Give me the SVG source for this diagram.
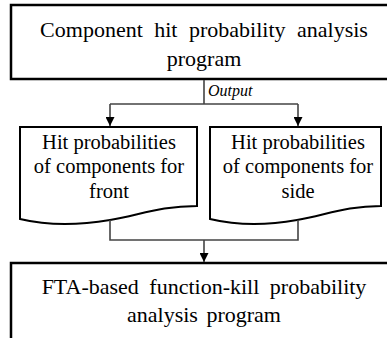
<svg xmlns="http://www.w3.org/2000/svg" width="387" height="338" viewBox="0 0 387 338">
<defs>
<style>
.box{fill:#fff;stroke:#000;stroke-width:2.5}
.doc{fill:#fff;stroke:#000;stroke-width:2}
.t{font-family:"Liberation Serif","Times New Roman",serif;fill:#000;text-anchor:middle}
.big{font-size:22px}
.mid{font-size:20.5px}
.con{fill:none;stroke:#444;stroke-width:1.6}
</style>
<marker id="ah" markerWidth="9" markerHeight="9" refX="9" refY="4.5" orient="auto" markerUnits="userSpaceOnUse" viewBox="0 0 9 9">
<path d="M0,0 L9,4.5 L0,9 Z" fill="#000"/>
</marker>
</defs>
<rect width="387" height="338" fill="#fff"/>
<g id="top">
<rect class="box" x="11" y="5" width="390" height="74"/>
<text class="t big" x="204" y="37" word-spacing="6">Component hit probability analysis</text>
<text class="t big" x="204" y="66">program</text>
</g>
<g id="front">
<path class="doc" d="M20,127 H197 V206 C160,206 140,215 110,220 C75,226 45,225 20,219 Z"/>
<text class="t mid" x="109" y="149">Hit probabilities</text>
<text class="t mid" x="109" y="173">of components for</text>
<text class="t mid" x="109" y="198">front</text>
</g>
<g id="side">
<path class="doc" d="M210,127 H381 V206 C346,206 326,215 297,220 C264,226 235,225 210,219 Z"/>
<text class="t mid" x="298" y="149">Hit probabilities</text>
<text class="t mid" x="298" y="173">of components for</text>
<text class="t mid" x="298" y="198">side</text>
</g>
<g id="bottom">
<rect class="box" x="11" y="263" width="390" height="90"/>
<text class="t big" x="204" y="294" word-spacing="5">FTA-based  function-kill probability</text>
<text class="t big" x="204" y="322" word-spacing="3">analysis program</text>
</g>
<g id="connectors">
<path class="con" d="M204,80 V104 M110,104 H298"/>
<path class="con" d="M110,104 V126" marker-end="url(#ah)"/>
<path class="con" d="M298,104 V126" marker-end="url(#ah)"/>
<path class="con" d="M110,220 V240 H298 V220"/>
<path class="con" d="M204,240 V262" marker-end="url(#ah)"/>
<text x="208" y="96" style="font-family:'Liberation Serif','Times New Roman',serif;font-style:italic;font-size:16px;fill:#000">Output</text>
</g>
</svg>
